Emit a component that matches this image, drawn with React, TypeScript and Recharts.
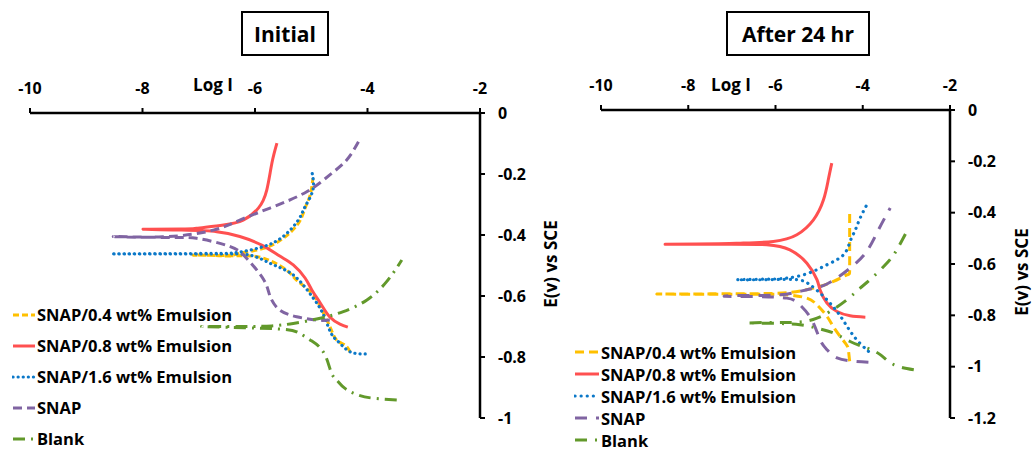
import { LineChart, Line, XAxis, YAxis } from 'recharts';

type Pt = { logI: number; e: number };
const pts = (rows: number[][]): Pt[] => rows.map(([logI, e]) => ({ logI, e }));

// x axis ticks (Log I) and potential ticks for each panel
const logTicks = [-10, -8, -6, -4, -2];
const initialETicks = [0, -0.2, -0.4, -0.6, -0.8, -1];
const afterETicks = [0, -0.2, -0.4, -0.6, -0.8, -1, -1.2];

const seriesNames = [
  'SNAP/0.4 wt% Emulsion',
  'SNAP/0.8 wt% Emulsion',
  'SNAP/1.6 wt% Emulsion',
  'SNAP',
  'Blank',
];

// Initial: cathodic end -> Ecorr -> anodic end
const initial04 = pts([
  [-4.31, -0.783], [-4.4, -0.761], [-4.55, -0.744], [-4.67, -0.7], [-4.81, -0.646],
  [-4.99, -0.591], [-5.26, -0.548], [-5.44, -0.515], [-5.85, -0.476], [-6.27, -0.468],
  [-6.7, -0.467], [-7.1, -0.466], [-6.7, -0.467], [-6.44, -0.469], [-6.27, -0.46],
  [-5.85, -0.444], [-5.5, -0.411], [-5.23, -0.362], [-5.11, -0.312], [-5.02, -0.269],
  [-4.97, -0.214],
]);
const initial08 = pts([
  [-4.35, -0.702], [-4.49, -0.692], [-4.67, -0.669], [-4.84, -0.623], [-4.99, -0.58],
  [-5.11, -0.541], [-5.32, -0.498], [-5.56, -0.469], [-5.88, -0.433], [-6.27, -0.405],
  [-6.68, -0.389], [-7.3, -0.384], [-7.99, -0.381], [-7.3, -0.38], [-7.04, -0.378],
  [-6.56, -0.367], [-6.21, -0.351], [-5.94, -0.312], [-5.79, -0.252], [-5.7, -0.165],
  [-5.61, -0.099],
]);
const initial16 = pts([
  [-4.04, -0.79], [-4.31, -0.783], [-4.49, -0.755], [-4.61, -0.733], [-4.7, -0.7],
  [-4.81, -0.651], [-4.96, -0.608], [-5.17, -0.558], [-5.41, -0.52], [-5.73, -0.493],
  [-6.09, -0.466], [-6.6, -0.462], [-7.5, -0.462], [-8.55, -0.462], [-7.5, -0.461],
  [-6.6, -0.46], [-6.27, -0.456], [-5.85, -0.438], [-5.5, -0.405], [-5.23, -0.351],
  [-5.11, -0.307], [-4.97, -0.252], [-4.99, -0.192],
]);
const initialSnap = pts([
  [-4.67, -0.679], [-4.9, -0.679], [-5.26, -0.668], [-5.56, -0.646], [-5.73, -0.602],
  [-5.85, -0.545], [-6.15, -0.476], [-6.44, -0.438], [-7.04, -0.411], [-7.64, -0.408],
  [-8.52, -0.405], [-7.64, -0.406], [-6.74, -0.384], [-6.27, -0.351], [-5.67, -0.307],
  [-5.08, -0.258], [-4.67, -0.203], [-4.37, -0.154], [-4.16, -0.094],
]);
const initialBlank = pts([
  [-3.48, -0.941], [-3.9, -0.935], [-4.16, -0.925], [-4.4, -0.903], [-4.55, -0.875],
  [-4.64, -0.853], [-4.73, -0.804], [-4.86, -0.766], [-5.02, -0.744], [-5.23, -0.72],
  [-5.5, -0.709], [-6.2, -0.704], [-6.95, -0.7], [-6.2, -0.7], [-5.7, -0.698],
  [-5.32, -0.69], [-4.84, -0.673], [-4.43, -0.651], [-4.01, -0.613], [-3.66, -0.553],
  [-3.39, -0.482],
]);

// After 24 hr
const after04 = pts([
  [-4.3, -0.979], [-4.33, -0.934], [-4.4, -0.908], [-4.63, -0.856], [-4.82, -0.804],
  [-5.05, -0.759], [-5.28, -0.733], [-5.74, -0.72], [-6.8, -0.718], [-8.72, -0.717],
  [-6.8, -0.716], [-5.67, -0.711], [-5.13, -0.694], [-4.67, -0.668], [-4.36, -0.642],
  [-4.3, -0.62], [-4.3, -0.5], [-4.3, -0.4],
]);
const after08 = pts([
  [-3.94, -0.807], [-4.29, -0.802], [-4.59, -0.785], [-4.82, -0.752], [-4.98, -0.7],
  [-5.05, -0.661], [-5.28, -0.597], [-5.67, -0.545], [-6.2, -0.525], [-7.3, -0.523],
  [-8.53, -0.523], [-7.3, -0.521], [-6.81, -0.519], [-6.05, -0.512], [-5.51, -0.486],
  [-5.13, -0.428], [-4.9, -0.35], [-4.79, -0.272], [-4.71, -0.207],
]);
const after16 = pts([
  [-3.87, -0.94], [-3.91, -0.934], [-4.14, -0.895], [-4.36, -0.843], [-4.59, -0.785],
  [-4.9, -0.726], [-5.21, -0.681], [-5.51, -0.661], [-6.2, -0.661], [-6.89, -0.661],
  [-6.2, -0.659], [-5.74, -0.655], [-5.28, -0.638], [-4.82, -0.603], [-4.44, -0.564],
  [-4.29, -0.512], [-4.17, -0.467], [-4.06, -0.421], [-3.87, -0.357],
]);
const afterSnap = pts([
  [-3.87, -0.983], [-4.21, -0.979], [-4.59, -0.966], [-4.82, -0.934], [-4.98, -0.895],
  [-5.17, -0.817], [-5.44, -0.759], [-5.74, -0.733], [-6.5, -0.727], [-7.16, -0.726],
  [-6.81, -0.723], [-5.89, -0.72], [-5.28, -0.7], [-4.82, -0.678], [-4.29, -0.616],
  [-3.91, -0.551], [-3.64, -0.467], [-3.37, -0.382],
]);
const afterBlank = pts([
  [-2.83, -1.012], [-3.29, -0.992], [-3.6, -0.953], [-3.91, -0.927], [-4.29, -0.902],
  [-4.67, -0.869], [-5.05, -0.85], [-5.44, -0.837], [-6.1, -0.831], [-6.66, -0.83],
  [-6.12, -0.828], [-5.44, -0.826], [-5.05, -0.811], [-4.75, -0.785], [-4.36, -0.739],
  [-4.06, -0.694], [-3.83, -0.661], [-3.45, -0.597], [-3.22, -0.545], [-2.99, -0.473],
]);

const font = '"Open Sans", Lato, sans-serif';

type Style = { color: string; dash?: string; width: number; cap?: 'round' | 'butt' };

const initialStyles: Style[] = [
  { color: '#FFC000', dash: '6 3', width: 3 },
  { color: '#FF5050', width: 3 },
  { color: '#0B78C8', dash: '0.1 5', width: 3.2, cap: 'round' },
  { color: '#8064A2', dash: '9 5', width: 3 },
  { color: '#62992B', dash: '12 6 2 6', width: 3 },
];
const afterStyles: Style[] = [
  { color: '#FFC000', dash: '9 5', width: 3 },
  { color: '#FF5050', width: 3 },
  { color: '#0B78C8', dash: '0.1 6', width: 3.2, cap: 'round' },
  { color: '#8064A2', dash: '12 9', width: 3 },
  { color: '#62992B', dash: '12 8 2 8', width: 3 },
];

const tickStyle = { fill: '#000', fontSize: 16, fontWeight: 700, fontFamily: font };

type PanelProps = {
  series: Pt[][];
  styles: Style[];
  eTicks: number[];
  eMin: number;
  width: number;
  margin: { top: number; right: number; bottom: number; left: number };
};

const Panel = ({ series, styles, eTicks, eMin, width, margin }: PanelProps) => (
  <LineChart width={width} height={450} margin={margin}>
    <XAxis
      type="number"
      dataKey="logI"
      orientation="top"
      domain={[-10, -2]}
      ticks={logTicks}
      interval={0}
      height={40}
      tick={tickStyle}
      tickSize={5}
      tickMargin={14}
      axisLine={{ stroke: '#000', strokeWidth: 2.5 }}
      tickLine={{ stroke: '#000', strokeWidth: 2 }}
    />
    <YAxis
      type="number"
      dataKey="e"
      orientation="right"
      domain={[eMin, 0]}
      ticks={eTicks}
      interval={0}
      width={60}
      tick={tickStyle}
      tickSize={5}
      tickMargin={13}
      axisLine={{ stroke: '#000', strokeWidth: 2.5 }}
      tickLine={{ stroke: '#000', strokeWidth: 2 }}
    />
    {series.map((data, i) => (
      <Line
        key={seriesNames[i]}
        data={data}
        dataKey="e"
        type="natural"
        stroke={styles[i].color}
        strokeWidth={styles[i].width}
        strokeDasharray={styles[i].dash}
        strokeLinecap={styles[i].cap ?? 'butt'}
        dot={false}
        activeDot={false}
        isAnimationActive={false}
      />
    ))}
  </LineChart>
);

const LegendBlock = ({
  styles, left, top, gap, sample,
}: { styles: Style[]; left: number; top: number; gap: number; sample: number }) => (
  <div style={{ position: 'absolute', left, top }}>
    {seriesNames.map((name, i) => (
      <div key={name} style={{ display: 'flex', alignItems: 'center', height: gap }}>
        <svg width={sample} height={10} style={{ marginRight: 1 }}>
          <line
            x1={1}
            y1={5}
            x2={sample - 1}
            y2={5}
            stroke={styles[i].color}
            strokeWidth={styles[i].width}
            strokeDasharray={styles[i].dash}
            strokeLinecap={styles[i].cap ?? 'butt'}
          />
        </svg>
        <span style={{ fontSize: 16.5, fontWeight: 700, whiteSpace: 'nowrap' }}>{name}</span>
      </div>
    ))}
  </div>
);

const titleBox = (left: number, width: number, text: string) => (
  <div
    style={{
      position: 'absolute', left, top: 11, width, height: 45, boxSizing: 'border-box',
      border: '2px solid #000', display: 'flex', alignItems: 'center', justifyContent: 'center',
      fontSize: 21, fontWeight: 700,
    }}
  >
    {text}
  </div>
);

const axisText = (left: number, top: number, text: string, rotate = false) => (
  <div
    style={{
      position: 'absolute', left, top, fontSize: 17, fontWeight: 700, whiteSpace: 'nowrap',
      transform: `translate(-50%, -50%)${rotate ? ' rotate(-90deg)' : ''}`,
    }}
  >
    {text}
  </div>
);

export default function App() {
  return (
    <div
      style={{
        position: 'absolute', left: 0, top: 0, width: 1034, height: 450,
        background: '#fff', fontFamily: font, color: '#000', overflow: 'hidden',
      }}
    >
      <div style={{ position: 'absolute', left: 0, top: 0 }}>
        <Panel
          series={[initial04, initial08, initial16, initialSnap, initialBlank]}
          styles={initialStyles}
          eTicks={initialETicks}
          eMin={-1}
          width={545}
          margin={{ top: 73, right: 5, bottom: 32, left: 30 }}
        />
      </div>
      <div style={{ position: 'absolute', left: 560, top: 0 }}>
        <Panel
          series={[after04, after08, after16, afterSnap, afterBlank]}
          styles={afterStyles}
          eTicks={afterETicks}
          eMin={-1.2}
          width={474}
          margin={{ top: 70, right: 24, bottom: 32, left: 41 }}
        />
      </div>
      {titleBox(241, 88, 'Initial')}
      {titleBox(726, 144, 'After 24 hr')}
      {axisText(213, 84, 'Log I')}
      {axisText(731, 84, 'Log I')}
      {axisText(550, 264, 'E(v) vs SCE', true)}
      {axisText(1021, 272, 'E(v) vs SCE', true)}
      <LegendBlock styles={initialStyles} left={12} top={299} gap={31} sample={24} />
      <LegendBlock styles={afterStyles} left={574} top={341} gap={22} sample={26} />
    </div>
  );
}
